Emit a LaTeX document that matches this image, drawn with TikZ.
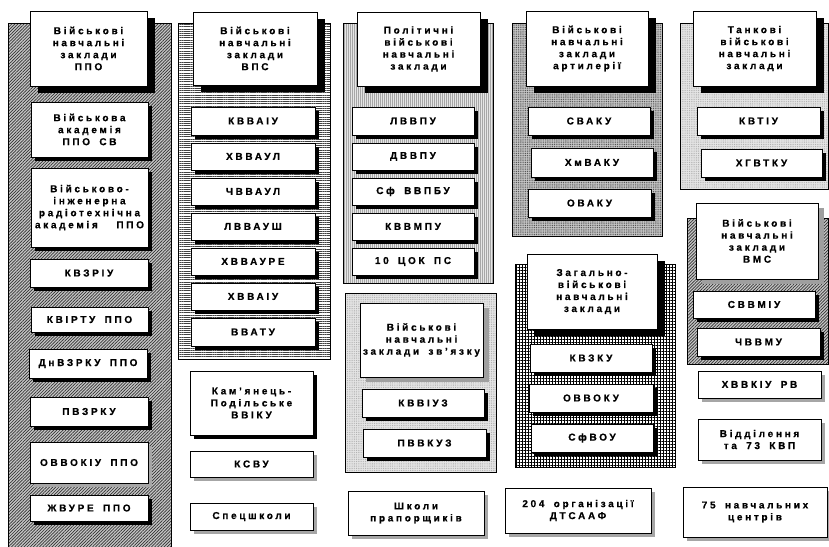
\documentclass[tikz,border=0pt]{standalone}
\usepackage{fontspec}
\setmainfont{Liberation Sans}[LetterSpace=27,FakeBold=0.6,WordSpace=1.7]
\usetikzlibrary{patterns.meta,shadows}
\newcommand\mybx[7]{\node[#1, minimum width={#5-#3}, minimum height={#6-#4}] (#2) at ({(#3+#5)/2},{(#4+#6)/2}) {#7};}
\tikzset{
 every node/.style={font=\bfseries\fontsize{10}{12}\selectfont, align=center, inner sep=1pt},
 box/.style={draw, fill=white, line width=0.9pt},
 hs/.style={box, drop shadow={shadow xshift=8pt, shadow yshift=-6.5pt, fill=black, opacity=1}},
 hg/.style={box, drop shadow={shadow xshift=6pt, shadow yshift=-5pt, fill=gray!75, opacity=1}},
 bs/.style={box, drop shadow={shadow xshift=3.5pt, shadow yshift=-3.5pt, fill=black, opacity=1}},
 gs/.style={box, drop shadow={shadow xshift=3.5pt, shadow yshift=-3.5pt, fill=gray!70, opacity=1}},
 panel/.style={draw=black, line width=0.7pt},
 pdiag/.style={panel, preaction={fill=gray!45}, pattern={Lines[angle=45,distance=2.2pt,line width=0.7pt]}, pattern color=black!80},
 phor/.style={panel, preaction={fill=white}, pattern={Lines[angle=0,distance=2.2pt,line width=0.6pt]}, pattern color=black!75},
 pver/.style={panel, preaction={fill=gray!20}, pattern={Lines[angle=90,distance=2pt,line width=0.7pt]}, pattern color=gray!70},
 pdotl/.style={panel, preaction={fill=gray!20}, pattern={Dots[radius=0.45pt,distance=1.8pt]}, pattern color=gray!75},
 pdotd/.style={panel, preaction={fill=gray!45}, pattern={Dots[radius=0.55pt,distance=1.8pt]}, pattern color=black!70},
 pgrid/.style={panel, preaction={fill=white}, pattern={Hatch[angle=0,distance=3pt,line width=0.7pt]}, pattern color=black},
}
\begin{document}
\begin{tikzpicture}[x=1pt,y=-1pt]
\clip (0,0) rectangle (829,546);
\fill[white] (0,0) rectangle (829,546);
% panels
\path[pdiag] (8,23) rectangle (171,552);
\path[phor] (178,23) rectangle (330,359);
\path[pver] (343,23) rectangle (493,283);
\path[pdotl] (345,293) rectangle (496,472);
\path[pdotd] (512,23) rectangle (662,236);
\path[pgrid] (515,264) rectangle (675,467);
\path[pdotl] (680,23) rectangle (828,189);
\path[pdiag] (687,218) rectangle (828,364);
% column 1
\mybx{hs}{t1}{30}{11}{147}{86}{Військові\\навчальні\\заклади\\ППО}
\mybx{bs}{a1}{31}{102}{148}{157}{Військова\\академія\\ППО СВ}
\mybx{bs}{a2}{31}{168}{148}{247}{Військово-\\інженерна\\радіотехнічна\\академія\ \ ППО}
\mybx{bs}{a3}{30}{259}{148}{287}{КВЗРІУ}
\mybx{bs}{a4}{31}{307}{148}{332}{КВІРТУ ППО}
\mybx{bs}{a5}{29}{349}{147}{378}{ДнВЗРКУ ППО}
\mybx{bs}{a6}{30}{397}{148}{426}{ПВЗРКУ}
\mybx{gs}{a7}{30}{442}{148}{483}{ОВВОКІУ ППО}
\mybx{bs}{a8}{30}{495}{148}{521}{ЖВУРЕ ППО}
% column 2
\mybx{hs}{t2}{193}{12}{317}{85}{Військові\\навчальні\\заклади\\ВПС}
\mybx{bs}{b1}{191}{107}{315}{135}{КВВАІУ}
\mybx{bs}{b2}{191}{143}{315}{170}{ХВВАУЛ}
\mybx{bs}{b3}{191}{178}{315}{205}{ЧВВАУЛ}
\mybx{bs}{b4}{191}{213}{315}{240}{ЛВВАУШ}
\mybx{bs}{b5}{191}{248}{315}{275}{ХВВАУРЕ}
\mybx{bs}{b6}{191}{283}{315}{310}{ХВВАІУ}
\mybx{bs}{b7}{191}{318}{315}{346}{ВВАТУ}
\mybx{bs}{b8}{190}{371}{313}{435}{Кам’янець-\\Подільське\\ВВІКУ}
\mybx{gs}{b9}{190}{451}{313}{477}{КСВУ}
\mybx{gs}{b10}{190}{503}{313}{530}{Спецшколи}
% column 3
\mybx{hs}{t3}{357}{12}{480}{86}{Політичні\\військові\\навчальні\\заклади}
\mybx{bs}{c1}{352}{107}{474}{135}{ЛВВПУ}
\mybx{bs}{c2}{352}{143}{474}{170}{ДВВПУ}
\mybx{bs}{c3}{352}{178}{474}{205}{Сф ВВПБУ}
\mybx{bs}{c4}{352}{213}{474}{240}{КВВМПУ}
\mybx{bs}{c5}{352}{248}{474}{275}{10 ЦОК ПС}
\mybx{hg}{t4}{360}{303}{483}{377}{Військові\\навчальні\\заклади зв’язку}
\mybx{bs}{d1}{362}{389}{484}{417}{КВВІУЗ}
\mybx{bs}{d2}{363}{429}{486}{457}{ПВВКУЗ}
\mybx{gs}{d3}{348}{491}{484}{535}{Школи\\прапорщиків}
% column 4
\mybx{hs}{t5}{526}{11}{648}{86}{Військові\\навчальні\\заклади\\артилерії}
\mybx{bs}{e1}{528}{107}{650}{135}{СВАКУ}
\mybx{bs}{e2}{531}{148}{653}{177}{ХмВАКУ}
\mybx{bs}{e3}{528}{189}{651}{217}{ОВАКУ}
\mybx{hs}{t6}{527}{254}{657}{329}{Загально-\\військові\\навчальні\\заклади}
\mybx{bs}{f1}{530}{344}{652}{372}{КВЗКУ}
\mybx{bs}{f2}{529}{384}{653}{412}{ОВВОКУ}
\mybx{bs}{f3}{531}{424}{653}{452}{СфВОУ}
\mybx{gs}{f4}{505}{488}{651}{533}{204 організації\\ДТСААФ}
% column 5
\mybx{hs}{t7}{693}{11}{816}{86}{Танкові\\військові\\навчальні\\заклади}
\mybx{bs}{g1}{697}{107}{820}{135}{КВТІУ}
\mybx{bs}{g2}{701}{149}{822}{177}{ХГВТКУ}
\mybx{hg}{t8}{696}{203}{818}{279}{Військові\\навчальні\\заклади\\ВМС}
\mybx{bs}{h1}{693}{291}{815}{318}{СВВМІУ}
\mybx{bs}{h2}{697}{328}{820}{356}{ЧВВМУ}
\mybx{gs}{h3}{698}{371}{821}{398}{ХВВКІУ РВ}
\mybx{gs}{h4}{698}{419}{821}{460}{Відділення\\та 73 КВП}
\mybx{gs}{h5}{683}{487}{827}{537}{75 навчальних\\центрів}
\end{tikzpicture}
\end{document}
